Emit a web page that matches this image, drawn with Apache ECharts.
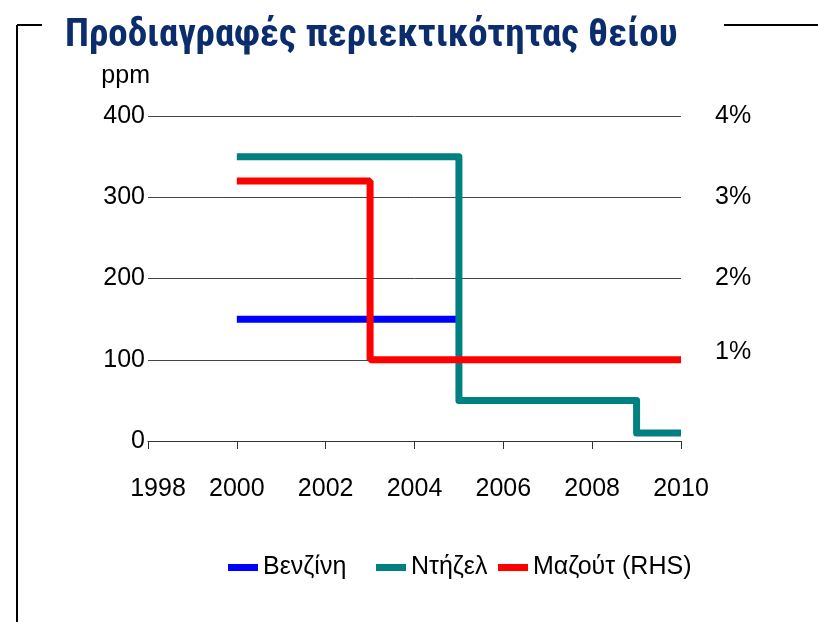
<!DOCTYPE html>
<html>
<head>
<meta charset="utf-8">
<script src="https://cdn.jsdelivr.net/npm/echarts@6/dist/echarts.min.js"></script>
<style>
  html, body { margin: 0; padding: 0; background: #fff; }
  #container { width: 818px; height: 622px; }
</style>
</head>
<body>
<div id="container"></div>
<script>
  // data
  var titleText = 'Προδιαγραφές περιεκτικότητας θείου';
  var seriesNames = ['Βενζίνη', 'Ντήζελ', 'Μαζούτ (RHS)'];
  var seriesColors = ['#0000ff', '#008080', '#ff0000'];

  var gasYears = [2000, 2005];
  var gasPpm = [150, 150];

  var dieselYears = [2000, 2005, 2009, 2010];
  var dieselPpm = [350, 50, 10, 10];

  var fuelYears = [2000, 2003, 2010];
  var fuelPct = [3.2, 1, 1];

  function pairs(xs, ys) {
    return xs.map(function (x, i) { return [x, ys[i]]; });
  }

  var dom = document.getElementById('container');
  var myChart = echarts.init(dom, null, { renderer: 'canvas' });

  var font = 'Liberation Sans, Arial, sans-serif';
  var fs = 25;

  // one legend per entry, the gaps in the picture are uneven
  var legendLeft = [228, 376, 498];
  var legends = seriesNames.map(function (n, i) {
    return {
      data: [n],
      left: legendLeft[i],
      top: 555,
      padding: 0,
      icon: 'rect',
      itemWidth: 30,
      itemHeight: 7,
      itemGap: 5,
      textStyle: { fontFamily: font, fontSize: fs, color: '#000' }
    };
  });

  var option = {
    backgroundColor: '#fff',
    animation: false,
    title: {
      text: titleText,
      left: 60,
      top: 12,
      textStyle: {
        fontFamily: 'Liberation Sans Narrow, Arial Narrow, Roboto Condensed, sans-serif',
        fontSize: 39,
        fontWeight: 'bold',
        color: '#0b2d6e'
      }
    },
    graphic: [
      { type: 'line', shape: { x1: 17, y1: 25, x2: 42, y2: 25 }, style: { stroke: '#000', lineWidth: 2 } },
      { type: 'line', shape: { x1: 17, y1: 25, x2: 17, y2: 622 }, style: { stroke: '#000', lineWidth: 2 } },
      { type: 'line', shape: { x1: 724, y1: 25, x2: 818, y2: 25 }, style: { stroke: '#000', lineWidth: 2 } }
    ],
    legend: legends,
    grid: { left: 148, right: 137, top: 116, bottom: 181 },
    xAxis: {
      type: 'value',
      min: 1998,
      max: 2010,
      interval: 2,
      axisLine: { show: true, lineStyle: { color: '#333', width: 1 } },
      axisTick: { show: true, length: 8, lineStyle: { color: '#333' } },
      axisLabel: {
        color: '#000', fontFamily: font, fontSize: fs, margin: 36,
        formatter: function (v) { return v === 1998 ? '{first|' + v + '}' : String(v); },
        rich: { first: { fontFamily: font, fontSize: fs, color: '#000', padding: [0, 0, 0, 20] } }
      },
      splitLine: { show: false }
    },
    yAxis: [
      {
        type: 'value',
        min: 0,
        max: 400,
        interval: 100,
        name: 'ppm',
        nameLocation: 'end',
        nameGap: 27,
        nameTextStyle: { color: '#000', fontFamily: font, fontSize: fs, align: 'right', padding: [0, -2, 0, 0] },
        axisLine: { show: false },
        axisTick: { show: false },
        axisLabel: { color: '#000', fontFamily: font, fontSize: fs, margin: 3 },
        splitLine: { show: true, lineStyle: { color: '#444', width: 1 } }
      },
      {
        type: 'value',
        min: 0,
        max: 4,
        interval: 1,
        position: 'right',
        axisLine: { show: false },
        axisTick: { show: false },
        axisLabel: {
          color: '#000', fontFamily: font, fontSize: fs, margin: 34,
          formatter: function (v) {
            if (v === 0) return '';
            return v === 1 ? '{up|' + v + '%}' : v + '%';
          },
          rich: { up: { fontFamily: font, fontSize: fs, color: '#000', padding: [0, 0, 16, 0] } }
        },
        splitLine: { show: false }
      }
    ],
    series: [
      {
        name: seriesNames[0],
        type: 'line',
        step: 'end',
        data: pairs(gasYears, gasPpm),
        symbol: 'none',
        lineStyle: { color: seriesColors[0], width: 7 },
        itemStyle: { color: seriesColors[0] }
      },
      {
        name: seriesNames[1],
        type: 'line',
        step: 'end',
        data: pairs(dieselYears, dieselPpm),
        symbol: 'none',
        lineStyle: { color: seriesColors[1], width: 7, join: 'round' },
        itemStyle: { color: seriesColors[1] }
      },
      {
        name: seriesNames[2],
        type: 'line',
        step: 'end',
        yAxisIndex: 1,
        data: pairs(fuelYears, fuelPct),
        symbol: 'none',
        lineStyle: { color: seriesColors[2], width: 7 },
        itemStyle: { color: seriesColors[2] }
      }
    ]
  };

  myChart.setOption(option);
  window.addEventListener('resize', myChart.resize);
</script>
</body>
</html>
